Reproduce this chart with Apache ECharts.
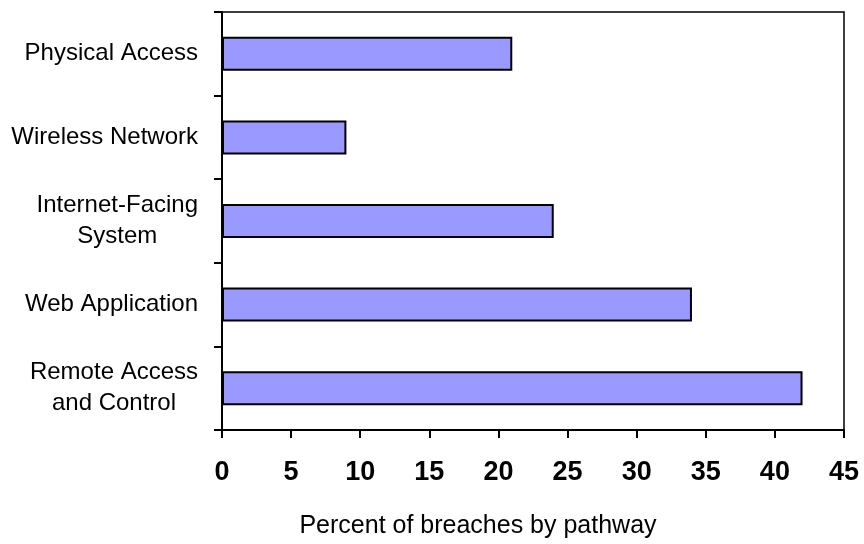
<!DOCTYPE html>
<html>
<head>
<meta charset="utf-8">
<script src="https://cdn.jsdelivr.net/npm/echarts@6/dist/echarts.min.js"></script>
<style>html,body{margin:0;padding:0;background:#fff;}#c{width:864px;height:544px;}</style>
</head>
<body>
<div id="c"></div>
<script>
const categories = ['Remote Access\nand Control', 'Web Application', 'Internet-Facing\nSystem', 'Wireless Network', 'Physical Access'];
const values = [42, 34, 24, 9, 21];
const xAxisName = 'Percent of breaches by pathway';

const chart = echarts.init(document.getElementById('c'), null, {renderer: 'canvas'});
const FF = '"Liberation Sans", Arial, sans-serif';
chart.setOption({
  animation: false,
  backgroundColor: '#fff',
  grid: {left: 222, right: 20, top: 12, bottom: 114, show: true, borderColor: '#000', borderWidth: 1.5, backgroundColor: 'transparent'},
  xAxis: {
    type: 'value', min: 0, max: 45, interval: 5,
    axisLine: {show: true, lineStyle: {color: '#000', width: 2}},
    axisTick: {show: true, inside: false, length: 8, lineStyle: {color: '#000', width: 2}},
    splitLine: {show: false},
    axisLabel: {color: '#000', fontFamily: FF, fontWeight: 'bold', fontSize: 27, margin: 29},
    name: xAxisName, nameLocation: 'middle', nameGap: 84,
    nameTextStyle: {color: '#000', fontFamily: FF, fontSize: 25, padding: [0, 110, 0, 0]}
  },
  yAxis: {
    type: 'category', data: categories,
    axisLine: {show: true, lineStyle: {color: '#000', width: 2}},
    axisTick: {show: true, length: 8, lineStyle: {color: '#000', width: 2}},
    axisLabel: {
      color: '#000', fontFamily: FF, fontSize: 24, lineHeight: 31, margin: 24,
      formatter: v => v.split('\n').map(s => '{c|' + s + '}').join('\n'),
      rich: {c: {align: 'center', color: '#000', fontFamily: FF, fontSize: 24, lineHeight: 31}}
    }
  },
  series: [{
    type: 'bar', data: values, barWidth: 34,
    itemStyle: {color: '#9999ff', borderColor: '#000', borderWidth: 2}
  }]
});
</script>
</body>
</html>
